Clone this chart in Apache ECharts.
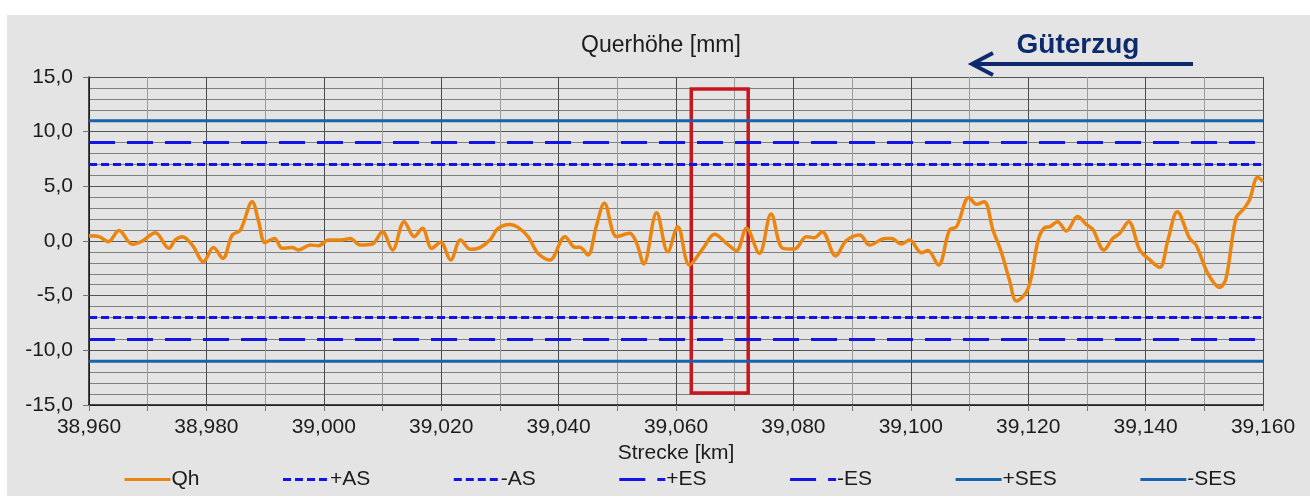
<!DOCTYPE html>
<html>
<head>
<meta charset="utf-8">
<script src="https://cdn.jsdelivr.net/npm/echarts@6/dist/echarts.min.js"></script>
<style>
html,body{margin:0;padding:0;background:#ffffff;}
#chart{width:1310px;height:500px;}
</style>
</head>
<body>
<div id="chart"></div>
<script>
// Strecke in metres (axis labels are shown in km)
const strecke_m = [38960, 38961.7, 38963.3, 38965.1, 38967.4, 38969.1, 38971.3, 38973.6, 38974.7, 38975.9, 38977.6, 38979.5, 38981.2, 38982.8, 38984.4, 38985.8, 38987.8, 38988.9, 38990.0, 38991.6, 38992.9, 38994.6, 38995.7, 38997.7, 38999.1, 39000.8, 39003.1, 39004.5, 39006.2, 39008.2, 39010.0, 39011.7, 39013.7, 39015.4, 39016.8, 39018.4, 39019.9, 39021.6, 39023.3, 39025.0, 39026.6, 39028.3, 39029.7, 39031.7, 39033.1, 39034.8, 39036.5, 39038.5, 39041.1, 39042.8, 39043.6, 39045.0, 39046.4, 39047.8, 39049.9, 39052.1, 39053.3, 39054.5, 39056.7, 39058.6, 39060.3, 39062.3, 39064.6, 39066.6, 39068.6, 39070.3, 39072.0, 39074.2, 39076.2, 39078.2, 39080.2, 39082.2, 39083.6, 39084.9, 39087.2, 39089.0, 39091.3, 39093.0, 39095.6, 39096.7, 39098.4, 39099.8, 39101.8, 39102.9, 39104.7, 39106.6, 39107.8, 39109.9, 39111.2, 39112.5, 39114.0, 39115.4, 39116.8, 39118.0, 39120.0, 39121.7, 39122.8, 39123.7, 39125.0, 39126.5, 39128.4, 39129.9, 39131.0, 39132.9, 39134.4, 39135.6, 39137.1, 39139.0, 39140.4, 39142.4, 39143.8, 39145.4, 39147.5, 39148.6, 39150.6, 39152.6, 39153.7, 39155.4, 39156.8, 39157.7, 39159.1, 39160.0];
// Querhöhe Qh [mm]
const qh = [0.49, 0.4, -0.06, 0.95, -0.3, 0.0, 0.76, -0.67, 0.1, 0.4, -0.37, -1.89, -0.6, -1.59, 0.55, 1.0, 3.6, 1.77, -0.15, 0.24, -0.67, -0.6, -0.82, -0.37, -0.43, 0.09, 0.09, 0.24, -0.37, -0.3, 0.85, -0.82, 1.77, 0.4, 1.16, -0.67, -0.12, -1.74, 0.09, -0.76, -0.6, 0.09, 1.16, 1.52, 1.25, 0.4, -1.13, -1.74, 0.4, -0.58, -0.58, -1.28, 1.31, 3.45, 0.4, 0.7, -0.21, -2.1, 2.59, -0.98, 1.31, -2.2, -0.67, 0.61, -0.21, -0.88, 1.16, -1.13, 2.47, -0.67, -0.73, 0.4, 0.3, 0.85, -1.37, 0.03, 0.55, -0.37, 0.24, 0.24, -0.27, 0.09, -1.07, -0.88, -2.2, 1.0, 1.31, 3.99, 3.35, 3.6, 1.0, -0.98, -3.57, -5.49, -4.33, 0.09, 1.22, 1.31, 1.77, 0.91, 2.23, 1.52, 1.07, -0.82, 0.24, 0.7, 1.77, -0.82, -1.58, -2.41, 0.09, 2.68, 0.24, -0.37, -2.96, -4.24, -3.41, 2.07, 2.99, 3.75, 5.82, 5.43];
// Grenzwerte [mm]
const limitNames = ['+AS', '-AS', '+ES', '-ES', '+SES', '-SES'];
const limitValues = [7, -7, 9, -9, 11, -11];
const xRange = [38960, 39160];
const yRange = [-15, 15];
// marked section (red box) [m, mm]
const boxX = [39062.6, 39072.3];
const boxY = [13.9, -13.9];

const fmtNum = (v, d) => v.toFixed(d).replace('.', ',');
const FONT = '"Liberation Sans", Arial, sans-serif';
const TXT = '#1c1c1c';

const limitStyles = {
  '+AS': {color: '#1414e6', type: [8, 4], width: 3},
  '-AS': {color: '#1414e6', type: [8, 4], width: 3},
  '+ES': {color: '#1414e6', type: [26, 12], width: 3},
  '-ES': {color: '#1414e6', type: [26, 12], width: 3},
  '+SES': {color: '#1763ad', type: 'solid', width: 3},
  '-SES': {color: '#1763ad', type: 'solid', width: 3}
};

const series = [{
  name: 'Qh', type: 'line', smooth: 0.35, symbol: 'none', z: 5,
  lineStyle: {color: '#ec8510', width: 3.5},
  itemStyle: {color: '#ec8510'},
  data: strecke_m.map((x, i) => [x, qh[i]])
}];
limitNames.forEach((n, i) => {
  const s = limitStyles[n];
  series.push({
    name: n, type: 'line', symbol: 'none', z: 3,
    lineStyle: {color: s.color, type: s.type, width: s.width},
    itemStyle: {color: s.color},
    data: [[xRange[0], limitValues[i]], [xRange[1], limitValues[i]]]
  });
});
series.push({
  name: 'box', type: 'line', symbol: 'none', data: [], z: 10,
  markArea: {
    silent: true,
    itemStyle: {color: 'rgba(0,0,0,0)', borderColor: '#c8161d', borderWidth: 3.5},
    data: [[{coord: [boxX[0], boxY[0]]}, {coord: [boxX[1], boxY[1]]}]]
  }
});

const chart = echarts.init(document.getElementById('chart'), null, {renderer: 'canvas'});
chart.setOption({
  backgroundColor: '#ffffff',
  animation: false,
  textStyle: {fontFamily: FONT},
  grid: {left: 89, right: 47, top: 77, bottom: 95},
  graphic: [
    {type: 'rect', z: -10, silent: true, shape: {x: 7, y: 15, width: 1303, height: 481}, style: {fill: '#e4e4e4'}},
    {type: 'text', z: 20, x: 661, y: 46, style: {text: 'Querhöhe [mm]', font: '23px ' + FONT, fill: TXT, align: 'center', verticalAlign: 'middle'}},
    {type: 'text', z: 20, x: 1078, y: 45, style: {text: 'Güterzug', font: 'bold 28px ' + FONT, fill: '#0c2a6c', align: 'center', verticalAlign: 'middle'}},
    {type: 'line', z: 20, shape: {x1: 1193, y1: 64, x2: 972, y2: 64}, style: {stroke: '#0c2a6c', lineWidth: 4}},
    {type: 'polyline', z: 20, shape: {points: [[993, 53], [972, 64], [993, 75]]}, style: {stroke: '#0c2a6c', lineWidth: 4, fill: null}}
  ],
  legend: {
    left: 118, top: 464, itemWidth: 46, itemHeight: 14, itemGap: 82,
    data: ['Qh'].concat(limitNames),
    itemStyle: {opacity: 0},
    lineStyle: {width: 3},
    textStyle: {fontSize: 21, color: TXT, fontFamily: FONT, padding: [0, 0, 0, -4]}
  },
  xAxis: {
    type: 'value', min: xRange[0], max: xRange[1], interval: 10,
    name: 'Strecke [km]', nameLocation: 'middle', nameGap: 33,
    nameTextStyle: {fontSize: 21, color: TXT, fontFamily: FONT},
    axisLine: {show: true, onZero: false, lineStyle: {color: '#111', width: 1.5}},
    axisTick: {show: true, length: 6, lineStyle: {color: '#777'}},
    axisLabel: {
      fontSize: 21, color: TXT, fontFamily: FONT, margin: 12,
      formatter: v => (Math.round(v) % 20 === 0 ? fmtNum(v / 1000, 3) : '')
    },
    splitLine: {show: true, lineStyle: {color: ['#4a4a4a', '#9a9a9a'], width: 1}}
  },
  yAxis: {
    type: 'value', min: yRange[0], max: yRange[1], interval: 5,
    axisLine: {show: true, lineStyle: {color: '#111', width: 1.5}},
    axisTick: {show: true, length: 6, lineStyle: {color: '#777'}},
    axisLabel: {fontSize: 21, color: TXT, fontFamily: FONT, margin: 16, formatter: v => fmtNum(v, 1)},
    splitLine: {show: true, lineStyle: {color: '#555', width: 1}},
    minorTick: {show: false, splitNumber: 5},
    minorSplitLine: {show: true, lineStyle: {color: '#808080', width: 1}}
  },
  series: series
});
</script>
</body>
</html>
